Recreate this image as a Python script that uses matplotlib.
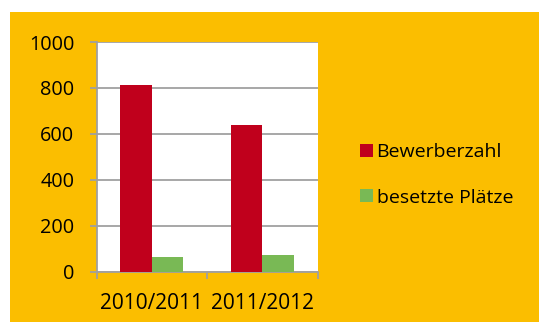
import matplotlib
matplotlib.use('Agg')
import matplotlib.pyplot as plt
from matplotlib.patches import Rectangle
import numpy as np

years = ['2010/2011', '2011/2012']
bewerber = [811, 638]
plaetze = [65, 73]
series_names = ['Bewerberzahl', 'besetzte Plätze']

orange = '#FBBE00'
red = '#C0001C'
green = '#79B955'
grey = '#A0A0A0'

plt.rcParams['font.family'] = ['Open Sans', 'DejaVu Sans']
fs = 14.3

fig = plt.figure(figsize=(5.39, 3.22), dpi=100)
fig.patch.set_facecolor('white')
# orange panel, with white strip at top and left
fig.patches.append(Rectangle((10/539, 0), 529/539, 310/322, transform=fig.transFigure,
                             facecolor=orange, edgecolor='none', zorder=-10))

ax = fig.add_axes([96.7/539, 50.3/322, 221/539, 229.7/322])
ax.set_facecolor('white')

x = np.arange(len(years))
w = 0.285
ax.bar(x - w/2, bewerber, w, color=red, label=series_names[0], zorder=3)
ax.bar(x + w/2, plaetze, w, color=green, label=series_names[1], zorder=3)

ax.set_xlim(-0.5, 1.5)
ax.set_ylim(0, 1000)
ax.set_yticks(range(0, 1001, 200))
ax.grid(axis='y', color=grey, linewidth=1.3, zorder=1)
ax.set_axisbelow(True)

for s in ['top', 'right']:
    ax.spines[s].set_visible(False)
for s in ['left', 'bottom']:
    ax.spines[s].set_color(grey)
    ax.spines[s].set_linewidth(1.3)

# ticks between categories, labels centred
ax.set_xticks([-0.5, 0.5, 1.5])
ax.set_xticklabels([])
ax.set_xticks(x, minor=True)
ax.set_xticklabels(years, minor=True, fontsize=fs + 0.7)
ax.tick_params(axis='x', which='major', length=5, color=grey, width=1.3, direction='out')
ax.tick_params(axis='x', which='minor', length=0, pad=15)
ax.tick_params(axis='y', length=5, color=grey, width=1.3, pad=11, labelsize=fs)

fig.legend(loc='center left', bbox_to_anchor=(342/539, (322-175)/322), frameon=False,
           fontsize=14, handlelength=0.68, handleheight=0.68, handletextpad=0.2,
           labelspacing=1.4)

fig.savefig('out.png', dpi=100)
